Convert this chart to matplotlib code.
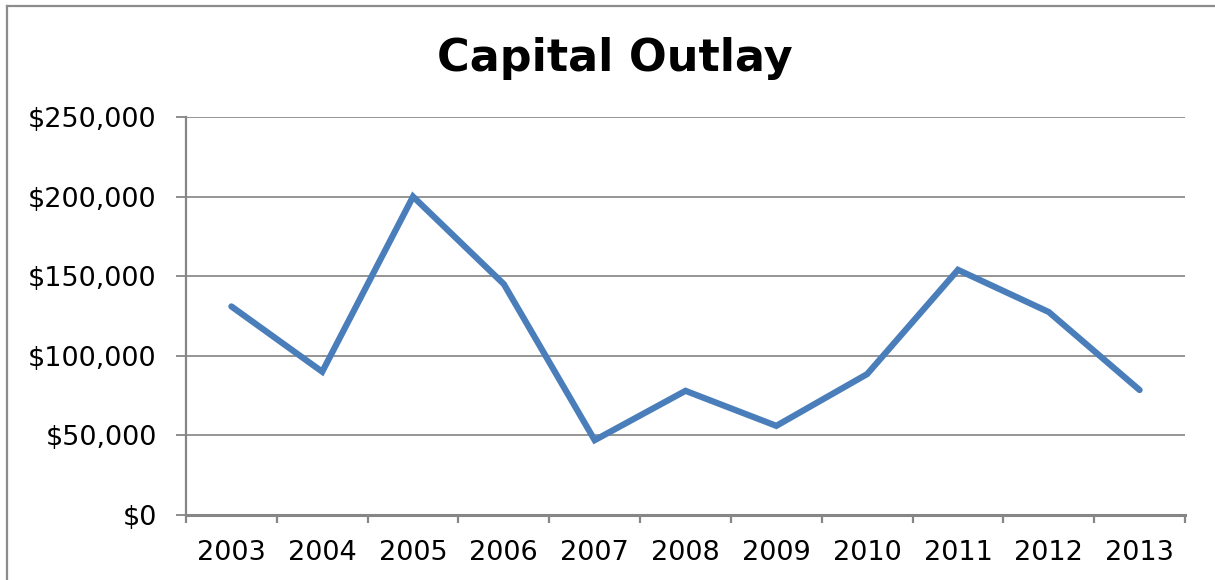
import matplotlib
matplotlib.use("Agg")
import matplotlib.pyplot as plt
from matplotlib.lines import Line2D
from matplotlib.ticker import FuncFormatter, FixedLocator

years = ["2003", "2004", "2005", "2006", "2007", "2008", "2009", "2010", "2011", "2012", "2013"]
outlay = [131000, 90000, 200000, 145000, 47000, 78000, 56000, 88500, 154000, 127500, 78500]
y_ticks = [0, 50000, 100000, 150000, 200000, 250000]

plt.rcParams['font.family'] = ['DejaVu Sans']

fig = plt.figure(figsize=(12.15, 5.8), dpi=100)
ax = fig.add_axes([186/1215, 1-515/580, (1185-186)/1215, (515-117)/580])

x = list(range(len(years)))
ax.plot(x, outlay, color="#4A7EBB", linewidth=4.5, solid_joinstyle="miter", solid_capstyle="round", zorder=3)

ax.set_xlim(-0.5, len(years) - 0.5)
ax.set_ylim(0, 250000)
ax.set_yticks(y_ticks)
ax.yaxis.set_major_formatter(FuncFormatter(lambda v, p: "${:,.0f}".format(v)))
ax.set_xticks(x)
ax.set_xticklabels(years)
ax.xaxis.set_minor_locator(FixedLocator([i - 0.5 for i in range(len(years) + 1)]))

ax.grid(axis="y", color="#8C8C8C", linewidth=1.3, zorder=1)
ax.set_axisbelow(True)
for s in ["top", "right"]:
    ax.spines[s].set_visible(False)
ax.spines["left"].set_color("#868686")
ax.spines["left"].set_linewidth(1.6)
ax.spines["bottom"].set_color("#868686")
ax.spines["bottom"].set_linewidth(2.2)

ax.tick_params(axis="y", which="major", length=7, width=1.3, color="#868686", labelsize=19.5, pad=14)
ax.tick_params(axis="x", which="major", length=0, labelsize=19.5, pad=18)
ax.tick_params(axis="x", which="minor", length=6, width=1.6, color="#868686")

fig.text(615/1215, 1-58/580, "Capital Outlay", ha="center", va="center", fontsize=32, fontweight="bold")

# chart area border (left and top visible)
fig.add_artist(Line2D([7/1215, 7/1215], [0, 1-6/580], transform=fig.transFigure, color="#8C8C8C", linewidth=1.6))
fig.add_artist(Line2D([7/1215, 1], [1-6/580, 1-6/580], transform=fig.transFigure, color="#8C8C8C", linewidth=1.6))

fig.savefig("out.png", dpi=100)
